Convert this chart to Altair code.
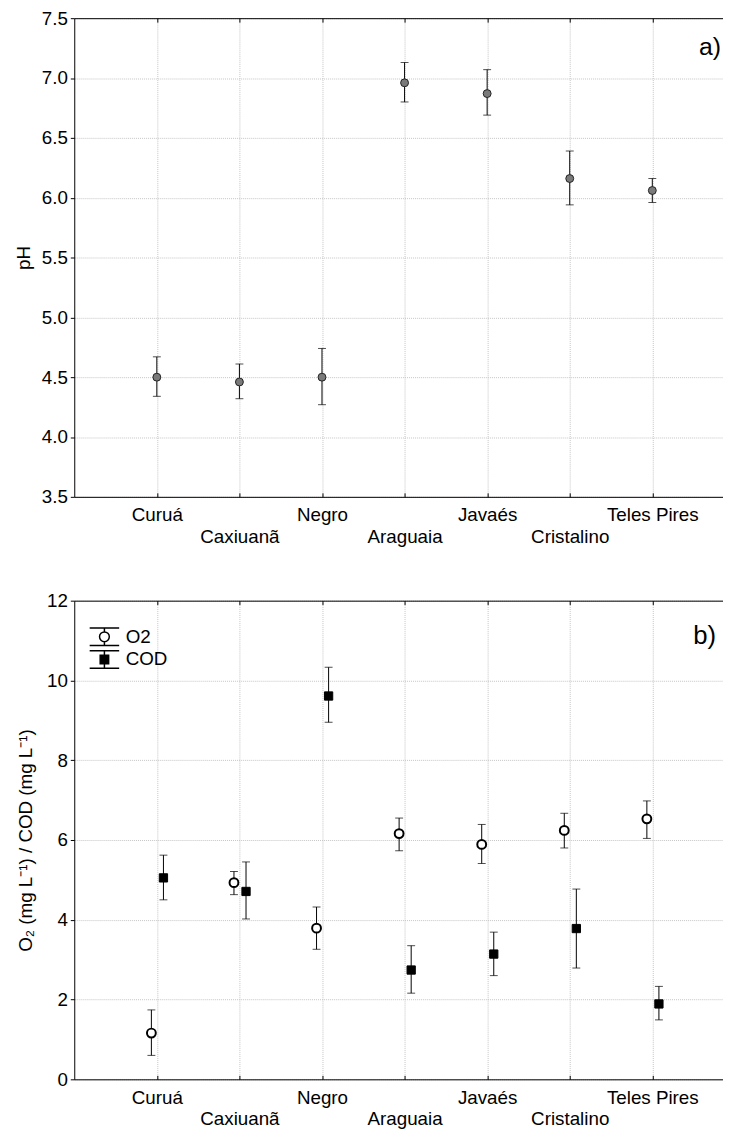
import altair as alt
import pandas as pd

# ---------------- data ----------------
rivers = ["Curuá", "Caxiuanã", "Negro", "Araguaia", "Javaés", "Cristalino", "Teles Pires"]
river_idx = [1, 2, 3, 4, 5, 6, 7]

ph_mean = [4.50, 4.46, 4.50, 6.96, 6.87, 6.16, 6.06]
ph_low = [4.34, 4.32, 4.27, 6.80, 6.69, 5.94, 5.96]
ph_high = [4.67, 4.61, 4.74, 7.13, 7.07, 6.39, 6.16]

o2_mean = [1.16, 4.93, 3.79, 6.16, 5.89, 6.24, 6.53]
o2_low = [0.60, 4.63, 3.26, 5.73, 5.41, 5.80, 6.04]
o2_high = [1.74, 5.21, 4.32, 6.55, 6.39, 6.67, 6.98]

cod_mean = [5.05, 4.71, 9.61, 2.74, 3.14, 3.78, 1.89]
cod_low = [4.50, 4.02, 8.95, 2.16, 2.60, 2.79, 1.49]
cod_high = [5.62, 5.45, 10.33, 3.35, 3.69, 4.77, 2.33]

ph_ticks = [3.5, 4.0, 4.5, 5.0, 5.5, 6.0, 6.5, 7.0, 7.5]
gas_ticks = [0, 2, 4, 6, 8, 10, 12]
series_names = ["O2", "COD"]
panel_labels = ["a)", "b)"]

# ---------------- style ----------------
FONT = "Liberation Sans"
FS = 19
W, H = 656, 484
XDOM = [0, 7.856]
GRID = "#c4c4c4"

names_js = "['', " + ", ".join("'" + r + "'" for r in rivers) + "]"
label_expr = (f"datum.value % 2 == 0 ? ['', {names_js}[datum.value]] : {names_js}[datum.value]")


def x_main():
    return alt.Axis(values=river_idx, labelExpr=label_expr, grid=True, gridColor=GRID,
                    gridDash=[1, 1], gridWidth=1, ticks=False, domain=True,
                    domainColor="black", domainWidth=1, labelFont=FONT, labelFontSize=FS,
                    labelColor="black", labelPadding=9, labelLineHeight=22,
                    labelBaseline="top", labelOverlap=False, labelFlush=False,
                    labelBound=False, title=None, orient="bottom")


def x_inner_bottom():
    return alt.Axis(values=river_idx, orient="top", offset=-H, labels=False, grid=False,
                    domain=False, ticks=True, tickSize=4, tickColor="black", title=None)


def x_inner_top():
    return alt.Axis(values=river_idx, orient="bottom", offset=-H, labels=False, grid=False,
                    domain=True, domainColor="black", domainWidth=1, ticks=True,
                    tickSize=4, tickColor="black", title=None)


def y_axis(values, fmt, title, title_pad):
    return alt.Axis(values=values, format=fmt, grid=True, gridColor=GRID, gridDash=[1, 1],
                    gridWidth=1, tickSize=4, tickColor="black", domainColor="black",
                    domainWidth=1, labelFont=FONT, labelFontSize=FS, labelColor="black",
                    labelPadding=3, title=title, titleFont=FONT, titleFontSize=FS,
                    titleFontWeight="normal", titleColor="black", titlePadding=title_pad)


def panel_label(text, size, right, middle):
    return alt.Chart(pd.DataFrame({"t": [text]})).mark_text(
        font=FONT, fontSize=size, align="right", baseline="middle", color="black"
    ).encode(text="t:N", x=alt.value(right), y=alt.value(middle))


# ---------------- panel a ----------------
ph_df = pd.DataFrame({"idx": river_idx, "river": rivers, "mean": ph_mean,
                      "low": ph_low, "high": ph_high})
ya = y_axis(ph_ticks, ".1f", "pH", 8)
ysc_a = alt.Scale(domain=[3.5, 7.5], nice=False, zero=False)
xsc = alt.Scale(domain=XDOM, nice=False, zero=False)

base_a = alt.Chart(ph_df)
rules_a = base_a.mark_rule(color="black", strokeWidth=1).encode(
    x=alt.X("idx:Q", scale=xsc, axis=x_main()),
    y=alt.Y("low:Q", scale=ysc_a, axis=ya),
    y2="high:Q",
)
caps_a = base_a.transform_fold(["low", "high"], as_=["k", "v"]).mark_tick(
    orient="horizontal", size=8, thickness=1, color="black").encode(
    x=alt.X("idx:Q", scale=xsc, axis=x_inner_bottom()),
    y=alt.Y("v:Q", scale=ysc_a, axis=ya),
)
pts_a = base_a.mark_circle(size=64, color="#7a7a7a", stroke="#222222", strokeWidth=1,
                           opacity=1).encode(
    x=alt.X("idx:Q", scale=xsc, axis=x_inner_top()),
    y=alt.Y("mean:Q", scale=ysc_a, axis=ya),
)
panel_a = alt.layer(rules_a, caps_a, pts_a, panel_label(panel_labels[0], 25, W - 2, 29)
                    ).resolve_axis(x="independent").properties(width=W, height=H)

# ---------------- panel b ----------------
o2_df = pd.DataFrame({"idx": river_idx, "river": rivers, "mean": o2_mean,
                      "low": o2_low, "high": o2_high})
cod_df = pd.DataFrame({"idx": river_idx, "river": rivers, "mean": cod_mean,
                       "low": cod_low, "high": cod_high})
legend_df = pd.DataFrame({"series": series_names})

yb = y_axis(gas_ticks, "d", "O₂ (mg L⁻¹)   /   COD (mg L⁻¹)", 11)
ysc_b = alt.Scale(domain=[0, 12], nice=False, zero=False)

o2_base = alt.Chart(o2_df).transform_calculate(xp="datum.idx - 0.066")
cod_base = alt.Chart(cod_df).transform_calculate(xp="datum.idx + 0.08")

o2_rules = o2_base.mark_rule(color="black", strokeWidth=1).encode(
    x=alt.X("xp:Q", scale=xsc, axis=x_main()),
    y=alt.Y("low:Q", scale=ysc_b, axis=yb), y2="high:Q")
o2_caps = o2_base.transform_fold(["low", "high"], as_=["k", "v"]).mark_tick(
    orient="horizontal", size=8, thickness=1, color="black").encode(
    x=alt.X("xp:Q", scale=xsc, axis=x_inner_bottom()),
    y=alt.Y("v:Q", scale=ysc_b, axis=yb))
cod_rules = cod_base.mark_rule(color="black", strokeWidth=1).encode(
    x=alt.X("xp:Q", scale=xsc, axis=x_inner_top()),
    y=alt.Y("low:Q", scale=ysc_b, axis=yb), y2="high:Q")
cod_caps = cod_base.transform_fold(["low", "high"], as_=["k", "v"]).mark_tick(
    orient="horizontal", size=8, thickness=1, color="black").encode(
    x=alt.X("xp:Q", scale=xsc, axis=None),
    y=alt.Y("v:Q", scale=ysc_b, axis=yb))
o2_pts = o2_base.mark_point(shape="circle", size=80, filled=True, fill="white",
                            stroke="black", strokeWidth=2, opacity=1).encode(
    x=alt.X("xp:Q", scale=xsc, axis=None),
    y=alt.Y("mean:Q", scale=ysc_b, axis=yb))
cod_pts = cod_base.mark_point(shape="square", size=70, filled=True, fill="black",
                              stroke="black", strokeWidth=1, opacity=1).encode(
    x=alt.X("xp:Q", scale=xsc, axis=None),
    y=alt.Y("mean:Q", scale=ysc_b, axis=yb))

path_o2 = ("M-1.57,-0.94H1.57M0,-0.94V-0.52M0,0.52V0.94M-1.57,0.94H1.57"
           "M0.52,0A0.52,0.52,0,1,1,-0.52,0A0.52,0.52,0,1,1,0.52,0Z")
path_cod = ("M-1.57,-0.94H1.57M0,-0.94V0.94M-1.57,0.94H1.57"
            "M-0.45,-0.45H0.45V0.45H-0.45Z")

leg = alt.Legend(title=None, orient="none", legendX=20, legendY=26, symbolSize=361,
                 symbolStrokeWidth=1.5, symbolOpacity=1,
                 labelFont=FONT, labelFontSize=FS, labelColor="black", labelOffset=11,
                 rowPadding=-5, padding=0)
legend_layer = alt.Chart(legend_df).transform_filter("false").mark_point(
    filled=False, strokeWidth=1.5).encode(
    shape=alt.Shape("series:N", scale=alt.Scale(domain=series_names, range=[path_o2, path_cod]),
                    legend=leg, sort=series_names),
    fill=alt.Fill("series:N", scale=alt.Scale(domain=series_names, range=["white", "black"]),
                  legend=leg, sort=series_names),
    stroke=alt.Stroke("series:N", scale=alt.Scale(domain=series_names, range=["black", "black"]),
                      legend=leg, sort=series_names),
)

panel_b = alt.layer(o2_rules, o2_caps, cod_rules, cod_caps, o2_pts, cod_pts,
                    legend_layer, panel_label(panel_labels[1], 26, W - 7, 36)
                    ).resolve_axis(x="independent").properties(width=W, height=H)

chart = alt.vconcat(panel_a, panel_b, spacing=46).resolve_legend(
    shape="independent", fill="independent", stroke="independent"
).properties(
    padding={"left": 6, "top": -5, "right": 0, "bottom": 0}
).configure(background="white").configure_view(
    stroke="transparent", strokeWidth=0, strokeOpacity=0)

chart.save("out.html", embed_options={"renderer": "svg", "actions": False})
